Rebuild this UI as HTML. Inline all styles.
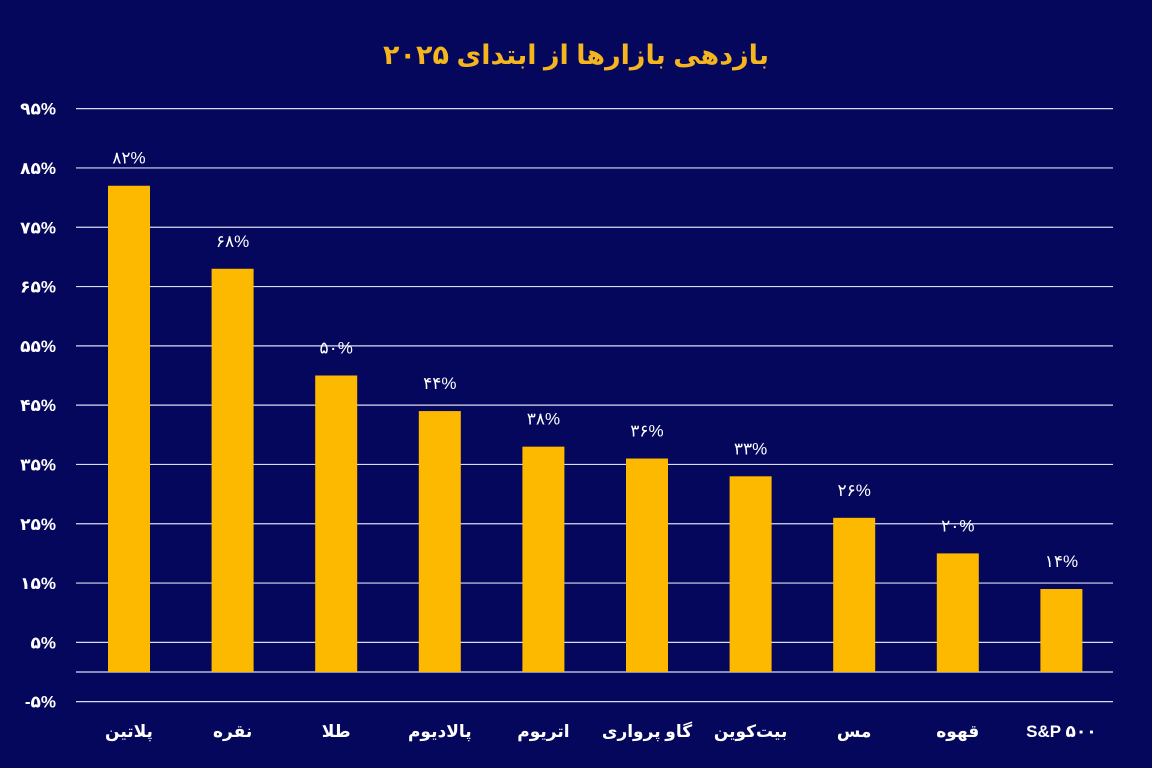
<!DOCTYPE html>
<html><head><meta charset="utf-8"><style>
html,body{margin:0;padding:0;background:#04075c;}
svg{display:block;}
text{font-family:"Liberation Sans","Noto Sans CJK SC","DejaVu Sans",sans-serif;}
</style></head><body>
<svg id="chart" width="1152" height="768">
<rect width="1152" height="768" fill="#04075c"/>
<text x="576" y="64" text-anchor="middle" font-size="27" font-weight="bold" fill="#f5b51f">بازدهی بازارها از ابتدای ۲۰۲۵</text>
<g id="grid"></g><g id="bars"></g>
</svg>
<script>
const categories=["پلاتین","نقره","طلا","پالادیوم","اتریوم","گاو پرواری","بیت‌کوین","مس","قهوه","S&P ۵۰۰"];
const values=[82,68,50,44,38,36,33,26,20,14];
const valueLabels=["۸۲%","۶۸%","۵۰%","۴۴%","۳۸%","۳۶%","۳۳%","۲۶%","۲۰%","۱۴%"];
const ticks=[95,85,75,65,55,45,35,25,15,5,-5];
const tickLabels=["۹۵%","۸۵%","۷۵%","۶۵%","۵۵%","۴۵%","۳۵%","۲۵%","۱۵%","۵%","-۵%"];
const NS="http://www.w3.org/2000/svg";
const y=v=>672-v*5.93;
const x=i=>129+i*103.6;
function mk(tag,attrs,parent){const e=document.createElementNS(NS,tag);for(const k in attrs)e.setAttribute(k,attrs[k]);parent.appendChild(e);return e;}
const grid=document.getElementById('grid'),bars=document.getElementById('bars');
ticks.forEach((t,i)=>{
 const l=mk('line',{x1:76,x2:1113,y1:y(t),y2:y(t),stroke:'#d8dcf0','stroke-width':1.2},grid);
 
 
 const tx=mk('text',{x:56,y:y(t)+6,'text-anchor':'end','font-size':17,'font-weight':'bold',fill:'#ffffff'},grid);
 tx.textContent=tickLabels[i];
 
 
});
const z=mk('line',{x1:76,x2:1113,y1:y(0),y2:y(0),stroke:'#d8dcf0','stroke-width':1.2},grid);


values.forEach((v,i)=>{
 const r=mk('rect',{x:x(i)-21,y:y(v),width:42,height:y(0)-y(v),fill:'#fdb900'},bars);
 
 
 const vl=mk('text',{x:x(i),y:y(v)-22,'text-anchor':'middle','font-size':17,fill:'#ffffff'},bars);
 vl.textContent=valueLabels[i];
 
 
 const cl=mk('text',{x:x(i),y:737,'text-anchor':'middle','font-size':17,'font-weight':'bold',fill:'#ffffff'},bars);
 cl.textContent=categories[i];
 
 
});
</script>
</body></html>
